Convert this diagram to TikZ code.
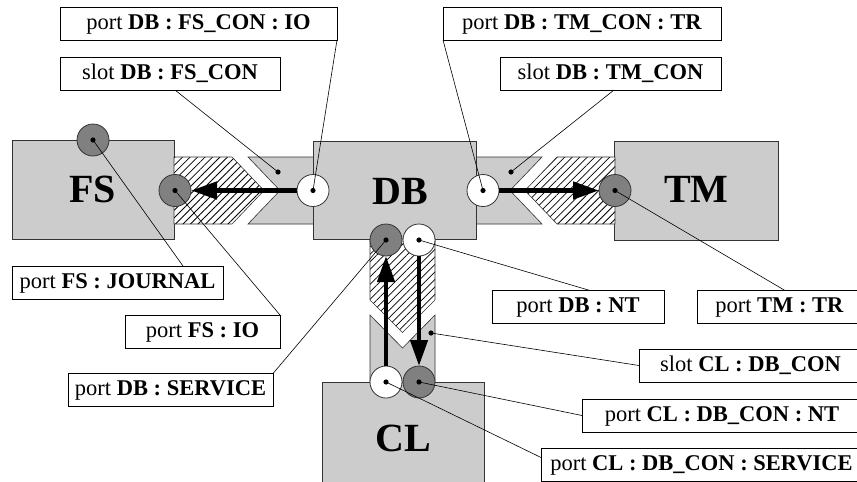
\documentclass[tikz,border=0pt]{standalone}
\usepackage{fontspec}
\setmainfont{Liberation Serif}
\usetikzlibrary{arrows.meta,patterns.meta}
\definecolor{boxgray}{HTML}{CCCCCC}
\definecolor{portgray}{HTML}{808080}
\definecolor{edge}{HTML}{333333}

\begin{document}
\begin{tikzpicture}[x=1pt,y=-1pt,
  comp/.style={draw=edge, line width=0.8pt, fill=boxgray, inner sep=0pt, outer sep=0pt},
  slotshape/.style={draw=edge, line width=0.6pt, fill=boxgray},
  hatch/.style={draw=edge, line width=0.6pt, preaction={fill=white},
    pattern={Lines[angle=45,distance=5.3pt,line width=0.8pt]}},
  compname/.style={font=\fontsize{40}{48}\selectfont\bfseries, inner sep=0pt},
  lbl/.style={draw=black, line width=0.7pt, fill=white, inner sep=0pt, outer sep=0pt,
    minimum height=33pt, text height=16pt, text depth=4.5pt,
    font=\fontsize{22.5}{27}\selectfont},
  portnode/.style={circle, draw=edge, line width=0.8pt, minimum size=32pt,
    inner sep=0pt, outer sep=0pt},
  inport/.style={portnode, fill=white},
  outport/.style={portnode, fill=portgray},
  flow/.style={line width=4.5pt, -{Triangle[length=26pt,width=17pt]}},
  leader/.style={line width=0.6pt},
  dotr/.style={fill=black},
]
\useasboundingbox (0,0) rectangle (857,482);
\begin{scope}
\clip (0,0) rectangle (857,482);

% slots (gray, notched)
\path[slotshape] (248,157) -- (314,157) -- (314,224) -- (248,224) -- (280,190.5) -- cycle;
\path[slotshape] (475,157) -- (542,157) -- (510,190.5) -- (542,224) -- (475,224) -- cycle;
\path[slotshape] (370,315) -- (402.5,348) -- (435,315) -- (435,383) -- (370,383) -- cycle;

% components
\node[comp, minimum width=162pt, minimum height=99pt] (fs) at (93,189.5) {};
\node[comp, minimum width=163pt, minimum height=98pt] (db) at (394.5,190) {};
\node[comp, minimum width=164pt, minimum height=99pt] (tm) at (696,190.5) {};
\node[comp, minimum width=162pt, minimum height=108pt] (cl) at (403,436) {};

\node[compname] (fsname) at (92.5,189) {FS};
\node[compname] (dbname) at (400,191.5) {DB};
\node[compname] (tmname) at (696.5,189) {TM};
\node[compname] (clname) at (403,438) {CL};

% connectors (hatched)
\path[hatch] (174,157) -- (232,157) -- (264,190.5) -- (232,224) -- (174,224) -- cycle;
\path[hatch] (557,157) -- (615,157) -- (615,224) -- (557,224) -- (525,190.5) -- cycle;
\path[hatch] (370,239) -- (435,239) -- (435,300) -- (402.5,332.5) -- (370,300) -- cycle;

% ports
\node[outport] (fsjournal) at (93,140) {};
\node[outport] (fsio) at (175,190.5) {};
\node[inport]  (dbfsio) at (313,190.5) {};
\node[inport]  (dbtmtr) at (483,190.5) {};
\node[outport] (tmtr) at (615,190.5) {};
\node[outport] (dbsvc) at (386,240) {};
\node[inport]  (dbnt) at (419,240) {};
\node[inport]  (clsvc) at (386,382) {};
\node[outport] (clnt) at (419,382) {};

% data flow
\draw[flow] (dbfsio.west) -- (fsio.east);
\draw[flow] (dbtmtr.east) -- (tmtr.west);
\draw[flow] (clsvc.north) -- (dbsvc.south);
\draw[flow] (dbnt.south) -- (clnt.north);

% slot reference points
\coordinate (fscon) at (278,172);
\coordinate (tmcon) at (511,172);
\coordinate (clcon) at (431,333);

% labels
\node[lbl, minimum width=277pt] (l1) at (198.5,23.5) {port \textbf{DB : FS\_CON : IO}};
\node[lbl, minimum width=220pt] (l2) at (170,73.5) {slot \textbf{DB : FS\_CON}};
\node[lbl, minimum width=278pt] (l3) at (582,23.5) {port \textbf{DB : TM\_CON : TR}};
\node[lbl, minimum width=221pt] (l4) at (610.5,73.5) {slot \textbf{DB : TM\_CON}};
\node[lbl, minimum width=211pt] (l5) at (117.5,282.5) {port \textbf{FS : JOURNAL}};
\node[lbl, minimum width=155pt] (l6) at (202.5,331.5) {port \textbf{FS : IO}};
\node[lbl, minimum width=205pt] (l7) at (170.5,390) {port \textbf{DB : SERVICE}};
\node[lbl, minimum width=172pt] (l8) at (578,307) {port \textbf{DB : NT}};
\node[lbl, minimum width=165pt] (l9) at (779.5,307) {port \textbf{TM : TR}};
\node[lbl, minimum width=223pt] (l10) at (750.5,365.5) {slot \textbf{CL : DB\_CON}};
\node[lbl, minimum width=280pt] (l11) at (722,415.5) {port \textbf{CL : DB\_CON : NT}};
\node[lbl, minimum width=321pt] (l12) at (701.5,465) {port \textbf{CL : DB\_CON : SERVICE}};

% leader lines
\draw[leader] (dbfsio.center) -- (l1.south east);
\draw[leader] (fscon) -- ([xshift=115pt]l2.south west);
\draw[leader] (dbtmtr.center) -- (l3.south west);
\draw[leader] (tmcon) -- ([xshift=114pt]l4.south west);
\draw[leader] (fsjournal.center) -- ([xshift=171pt]l5.north west);
\draw[leader] (fsio.center) -- (l6.north east);
\draw[leader] (dbsvc.center) -- (l7.north east);
\draw[leader] (dbnt.center) -- ([xshift=98pt]l8.north west);
\draw[leader] (tmtr.center) -- ([xshift=88pt]l9.north west);
\draw[leader] (clcon) -- (l10.west);
\draw[leader] (clnt.center) -- (l11.west);
\draw[leader] (clsvc.center) -- ([yshift=-9pt]l12.north west);

% reference dots
\foreach \p in {fsjournal,fsio,dbfsio,dbtmtr,tmtr,dbsvc,dbnt,clsvc,clnt}
  \fill[dotr] (\p.center) circle (2.6pt);
\foreach \p in {fscon,tmcon,clcon}
  \fill[dotr] (\p) circle (2.6pt);
\end{scope}
\end{tikzpicture}
\end{document}
